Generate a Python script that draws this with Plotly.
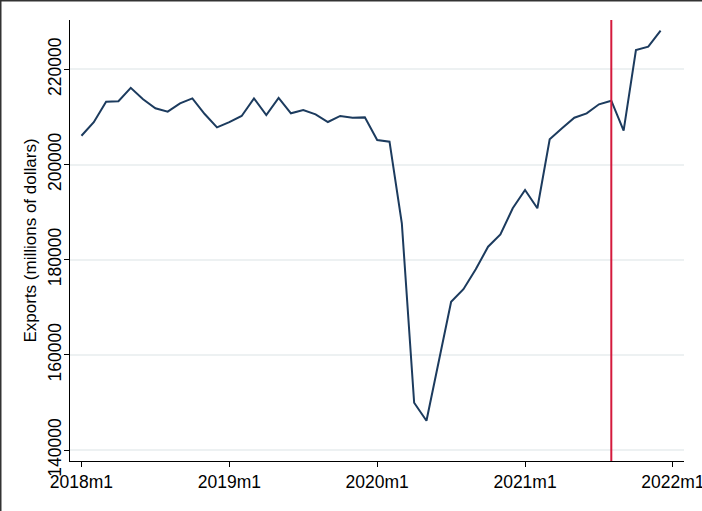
import plotly.graph_objects as go

# Monthly US exports, 2018m1 - 2021m12 (millions of dollars)
months = list(range(48))  # 0 = 2018m1
exports = [
    206050, 208900, 213200, 213300, 216100, 213700, 211800, 211100, 212850, 213900, 210600, 207800,
    208900, 210200, 213900, 210400, 214000, 210750, 211450, 210550, 208930, 210200, 209830, 209900,
    205150, 204800, 187650, 149950, 146170, 158500, 171170, 173800, 178000, 182730, 185330, 190800,
    194640, 190800, 205290, 207600, 209830, 210750, 212650, 213400, 207100, 224050, 224750, 228110,
]
tick_vals = [0, 12, 24, 36, 48]
tick_text = ["2018m1", "2019m1", "2020m1", "2021m1", "2022m1"]
y_ticks = [140000, 160000, 180000, 200000, 220000]
event_month = 43  # 2021m8

W, H = 702, 511
L, R, T, B = 70, 18, 20, 50
pw, ph = W - L - R, H - T - B

fig = go.Figure()
fig.add_trace(go.Scatter(
    x=months, y=exports, mode="lines",
    line=dict(color="#1c3b5e", width=2),
    showlegend=False, hoverinfo="skip",
))

fig.add_shape(type="line", xref="x", yref="paper", x0=event_month, x1=event_month,
              y0=0, y1=1, line=dict(color="#d41a3c", width=2))

# image frame (top and left dark edges)
fig.add_shape(type="line", xref="paper", yref="paper",
              x0=-L / pw, x1=(W - L) / pw, y0=1 + T / ph, y1=1 + T / ph,
              line=dict(color="#333333", width=3))
fig.add_shape(type="line", xref="paper", yref="paper",
              x0=-L / pw, x1=-L / pw, y0=-B / ph, y1=1 + T / ph,
              line=dict(color="#333333", width=3))

font = "Liberation Sans, Arial, Helvetica, sans-serif"
fig.update_layout(
    width=W, height=H,
    margin=dict(l=L, r=R, t=T, b=B, autoexpand=False),
    paper_bgcolor="white", plot_bgcolor="white",
    font=dict(family=font, size=17.5, color="black"),
    xaxis=dict(
        range=[-0.93, 48.9], tickvals=tick_vals, ticktext=tick_text,
        showgrid=False, zeroline=False, showline=True, linecolor="black", linewidth=1,
        ticks="outside", ticklen=5, tickcolor="black", tickfont=dict(size=17.5),
        ticklabeloverflow="allow",
    ),
    yaxis=dict(
        range=[137710, 230360], tickvals=y_ticks, tickangle=-90,
        tickformat="d", ticklabeloverflow="allow", ticklabelstandoff=-4,
        showgrid=True, gridcolor="#edf1f2", gridwidth=1.5,
        zeroline=False, showline=True, linecolor="black", linewidth=1,
        ticks="outside", ticklen=5, tickcolor="black", tickfont=dict(size=17.5),
        title=dict(text="Exports (millions of dollars)", font=dict(size=17), standoff=4),
    ),
)

fig.write_html("out.html", config={"displayModeBar": False},
               post_script="document.body.style.margin='0';")
